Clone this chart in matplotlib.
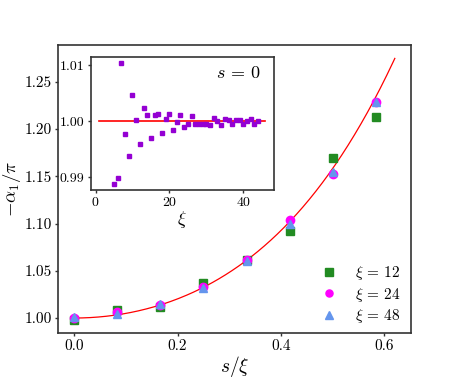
import numpy as np
import matplotlib
matplotlib.use("Agg")
import matplotlib.pyplot as plt

plt.rcParams['font.family'] = 'serif'
plt.rcParams['font.serif'] = ['cmr10']
plt.rcParams['mathtext.fontset'] = 'cm'
plt.rcParams['axes.formatter.use_mathtext'] = True

# main panel data
s_over_xi = [0, 1/12, 2/12, 3/12, 4/12, 5/12, 6/12, 7/12]
alpha_xi12 = [0.998, 1.0085, 1.012, 1.037, 1.061, 1.092, 1.169, 1.213]
alpha_xi24 = [1.000, 1.006, 1.014, 1.033, 1.061, 1.104, 1.152, 1.229]
alpha_xi48 = [1.001, 1.004, 1.015, 1.032, 1.060, 1.100, 1.155, 1.229]

# fit: 1 + a x^2 + b x^4
fit_a = 0.482
fit_b = 0.605
fit_xmax = 0.62

# inset data (s = 0)
xi_inset = list(range(5, 45))
alpha_inset = [0.9888, 0.9898, 1.0104, 0.9978, 0.9939, 1.0047, 1.0003, 0.9959,
               1.0024, 1.0011, 0.9971, 1.0011, 1.0014, 0.9979, 1.0004, 1.0014,
               0.9985, 0.9999, 1.0012, 0.9990, 0.9996, 1.0010, 0.9995, 0.9995,
               0.9996, 0.9996, 0.9994, 1.0006, 1.0000, 0.9994, 1.0004, 1.0002,
               0.9995, 1.0003, 1.0003, 0.9996, 1.0001, 1.0004, 0.9996, 1.0000]
inset_line = ([1, 46], [1.0, 1.0])

fig = plt.figure(figsize=(4.57, 3.81), dpi=100)
ax = fig.add_axes([0.127, 0.126, 0.772, 0.755])

xf = np.linspace(0, fit_xmax, 200)
ax.plot(xf, 1 + fit_a * xf**2 + fit_b * xf**4, color='red', lw=0.9)
ax.plot(s_over_xi, alpha_xi12, 's', color='forestgreen', ms=6, label=r'$\xi\,=\,12$')
ax.plot(s_over_xi, alpha_xi24, 'o', color='magenta', ms=6, label=r'$\xi\,=\,24$')
ax.plot(s_over_xi, alpha_xi48, '^', color='cornflowerblue', ms=6, label=r'$\xi\,=\,48$')

ax.set_xticks([0.0, 0.2, 0.4, 0.6])
ax.set_yticks([1.00, 1.05, 1.10, 1.15, 1.20, 1.25])
ax.set_xticklabels(['0.0', '0.2', '0.4', '0.6'])
ax.set_yticklabels(['1.00', '1.05', '1.10', '1.15', '1.20', '1.25'])
ax.tick_params(labelsize=11, length=2.5, width=1, pad=2, color='#333333')
ax.set_xlabel(r'$s/\xi$', fontsize=14, labelpad=1)
ax.set_ylabel(r'$-\alpha_1/\pi$', fontsize=13.5, labelpad=1)
for sp in ax.spines.values():
    sp.set_color('#333333')
    sp.set_linewidth(1.2)
ax.legend(loc='lower right', bbox_to_anchor=(1.0, -0.01), frameon=False,
          fontsize=11, handletextpad=0.9, borderaxespad=0.3,
          labelspacing=0.22, markerscale=0.85, handlelength=1.6)

# inset
ins = fig.add_axes([0.199, 0.501, 0.40, 0.349])
ins.plot(inset_line[0], inset_line[1], color='red', lw=1.2)
ins.plot(xi_inset, alpha_inset, 's', color='darkviolet', ms=3.2)
ins.set_xticks([0, 20, 40])
ins.set_yticks([0.99, 1.00, 1.01])
ins.set_yticklabels(['0.99', '1.00', '1.01'])
ins.tick_params(labelsize=10, length=2.5, width=1, pad=2, color='#333333')
ins.set_xlabel(r'$\xi$', fontsize=13, labelpad=0)
ins.text(0.93, 0.88, r'$s\,=\,0$', transform=ins.transAxes, fontsize=13,
         ha='right', va='center')
for sp in ins.spines.values():
    sp.set_color('#333333')
    sp.set_linewidth(1.2)

fig.savefig('out.png', dpi=100)
